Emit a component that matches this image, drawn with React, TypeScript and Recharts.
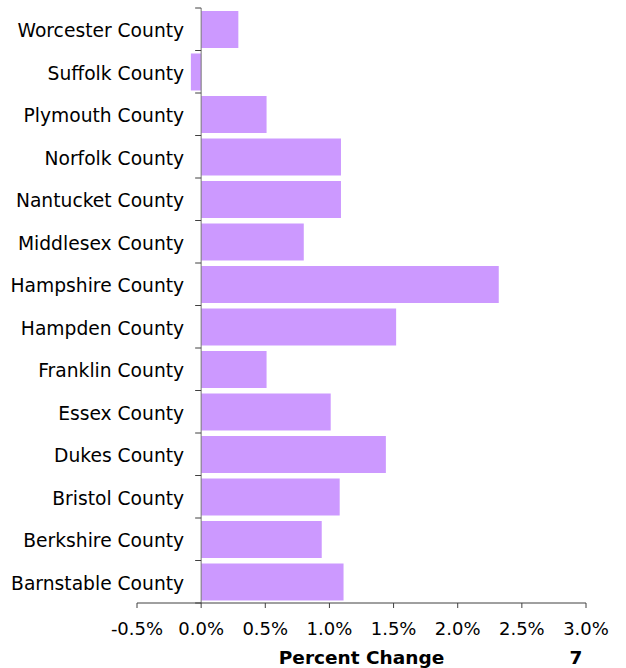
import React from "react";
import { BarChart, Bar, XAxis, YAxis, ReferenceLine } from "recharts";

const counties = [
  "Worcester County",
  "Suffolk County",
  "Plymouth County",
  "Norfolk County",
  "Nantucket County",
  "Middlesex County",
  "Hampshire County",
  "Hampden County",
  "Franklin County",
  "Essex County",
  "Dukes County",
  "Bristol County",
  "Berkshire County",
  "Barnstable County",
];
const percentChange = [0.29, -0.08, 0.51, 1.09, 1.09, 0.8, 2.32, 1.52, 0.51, 1.01, 1.44, 1.08, 0.94, 1.11];
const xTicks = [-0.5, 0, 0.5, 1, 1.5, 2, 2.5, 3];
const X_MIN = -0.5;
const X_MAX = 3;
const axisTitle = "Percent Change";
const pageNumber = "7";

const data = counties.map((name, i) => ({ name, value: percentChange[i] }));

const W = 626;
const H = 668;
const MARGIN = { top: 8, right: 40, bottom: 0, left: 0 };
const Y_AXIS_W = 137;
const X_AXIS_H = 65;
const FONT = "'DejaVu Sans', Verdana, sans-serif";

const plotLeft = MARGIN.left + Y_AXIS_W;
const plotW = W - MARGIN.right - plotLeft;
const plotH = H - MARGIN.top - MARGIN.bottom - X_AXIS_H;
const zeroX = plotLeft + ((0 - X_MIN) / (X_MAX - X_MIN)) * plotW;
const band = plotH / counties.length;

const CategoryTick = (props: any) => {
  const { y, payload, index } = props;
  const isLast = index === counties.length - 1 || payload?.value === counties[counties.length - 1];
  return (
    <g>
      <line x1={zeroX - 6} x2={zeroX} y1={y - band / 2} y2={y - band / 2} stroke="#404040" strokeWidth={1} />
      {isLast && (
        <line x1={zeroX - 6} x2={zeroX} y1={y + band / 2} y2={y + band / 2} stroke="#404040" strokeWidth={1} />
      )}
      <text x={zeroX - 17} y={y} dy={8} textAnchor="end" fontSize={18.7} fill="#000" fontFamily={FONT}>
        {payload.value}
      </text>
    </g>
  );
};

const AxisTitle = (props: any) => {
  const vb = props.viewBox || { x: plotLeft, y: H - X_AXIS_H, width: plotW, height: X_AXIS_H };
  const cx = vb.x + vb.width / 2;
  const by = vb.y + vb.height - 4;
  return (
    <g>
      <text x={cx} y={by} textAnchor="middle" fontWeight="bold" fontSize={18.5} fill="#000" fontFamily={FONT}>
        {axisTitle}
      </text>
      <text x={vb.x + vb.width - 10} y={by} textAnchor="middle" fontWeight="bold" fontSize={18.5} fill="#000" fontFamily={FONT}>
        {pageNumber}
      </text>
    </g>
  );
};

export default function App() {
  return (
    <div style={{ position: "absolute", left: 0, top: 0, width: W, height: H, background: "#fff" }}>
      <BarChart width={W} height={H} data={data} layout="vertical" margin={MARGIN} barCategoryGap="7%">
        <XAxis
          type="number"
          domain={[X_MIN, X_MAX]}
          ticks={xTicks}
          interval={0}
          allowDataOverflow
          height={X_AXIS_H}
          tickFormatter={(v: number) => v.toFixed(1) + "%"}
          tick={{ fontSize: 18, fill: "#000", fontFamily: FONT }}
          tickSize={5}
          tickMargin={14}
          axisLine={{ stroke: "#404040" }}
          tickLine={{ stroke: "#404040" }}
          label={<AxisTitle />}
        />
        <YAxis
          type="category"
          dataKey="name"
          width={Y_AXIS_W}
          interval={0}
          axisLine={false}
          tickLine={false}
          tick={(p: any) => <CategoryTick {...p} />}
        />
        <Bar dataKey="value" fill="#CC99FF" isAnimationActive={false} />
        <ReferenceLine x={0} stroke="#777" strokeWidth={1} />
      </BarChart>
    </div>
  );
}
